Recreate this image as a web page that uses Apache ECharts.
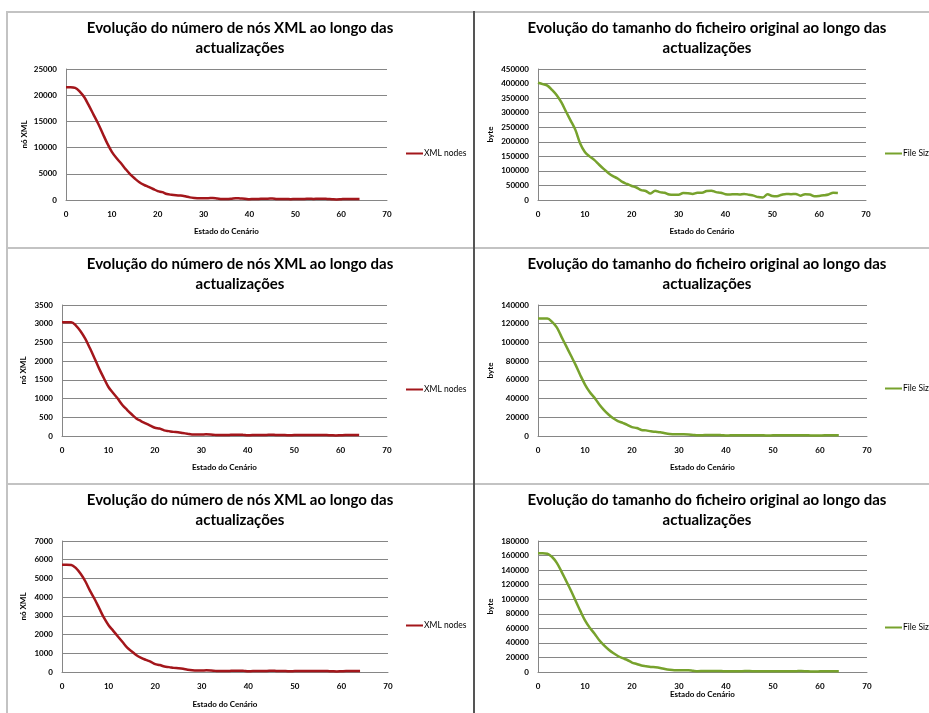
<!DOCTYPE html>
<html><head><meta charset="utf-8">
<script src="https://cdn.jsdelivr.net/npm/echarts@6/dist/echarts.min.js"></script>
<style>html,body{margin:0;padding:0;background:#fff}#c{width:929px;height:713px}</style>
</head><body><div id="c"></div>
<script>
const estados = [0,1,2,3,4,5,6,7,8,9,10,11,12,13,14,15,16,17,18,19,20,21,22,23,24,25,26,27,28,29,30,31,32,33,34,35,36,37,38,39,40,41,42,43,44,45,46,47,48,49,50,51,52,53,54,55,56,57,58,59,60,61,62,63,64];
const xTicks = [0,10,20,30,40,50,60,70];
const xmlNodes1 = [21500,21500,21400,20700,19600,18000,16300,14600,12700,10800,9200,8000,7000,5900,4900,4100,3400,2900,2500,2100,1700,1500,1150,1000,900,850,700,500,400,350,350,350,400,300,200,200,250,350,300,250,150,200,200,250,250,300,200,200,200,150,200,200,200,250,200,250,250,200,150,100,150,200,200,200,200];
const fileSize1 = [403000,398000,393000,378000,360000,335000,303000,272000,240000,194000,165000,150000,138000,122000,107000,93000,82000,74000,62000,55000,48000,43000,34000,31000,22000,32000,27000,25000,19000,18000,18000,24000,23000,21000,25000,25000,31000,32000,27000,25000,20000,19000,20000,19000,21000,18000,15000,10000,9000,20000,14000,13000,18000,21000,20000,21000,15000,20000,19000,13000,14000,16000,19000,25000,24000];
const xmlNodes2 = [3040,3040,3040,2950,2800,2600,2350,2080,1800,1550,1310,1150,1000,830,700,580,470,400,340,280,220,200,150,130,110,100,80,60,40,40,40,45,40,30,25,25,30,35,35,30,20,25,25,30,30,35,30,25,25,20,25,25,25,30,25,30,30,25,20,15,20,25,25,25,25];
const fileSize2 = [125500,125500,125500,122000,116000,106000,96000,86000,76000,65000,55000,47000,41000,34000,28000,23000,19000,16000,14000,12000,9500,8500,6500,6000,5000,4500,4000,3000,2200,1800,1800,1800,1700,1200,800,900,1000,1100,1100,900,600,700,700,800,900,900,800,700,700,600,700,700,700,800,800,900,900,800,600,500,600,700,700,700,700];
const xmlNodes3 = [5730,5730,5720,5550,5250,4850,4350,3900,3400,2900,2500,2200,1900,1600,1300,1100,900,760,650,550,420,370,290,260,220,200,170,120,90,80,80,90,80,60,50,50,60,70,70,60,40,50,50,60,60,70,60,50,50,40,50,50,50,60,50,60,60,50,40,30,40,50,50,50,50];
const fileSize3 = [163000,163000,162500,158000,150000,138000,125000,112000,98000,84000,71000,61000,53000,44000,37000,31000,26000,22000,19000,16500,13000,11000,9000,8000,7000,6500,5500,4000,3000,2500,2500,2500,2400,1700,1200,1300,1400,1500,1500,1300,900,1000,1000,1100,1300,1300,1100,1000,1000,900,1000,1000,1000,1100,1100,1200,1300,1100,800,700,900,1000,1000,1000,1000];
const yMax = [25000,450000,3500,140000,7000,180000];
const yStep = [5000,50000,500,20000,1000,20000];
const titleXml = 'Evolução do número de nós XML ao longo das\nactualizações';
const titleFile = 'Evolução do tamanho do ficheiro original ao longo das\nactualizações';
const xName = 'Estado do Cenário';
const yNameXml = 'nó XML';
const yNameFile = 'byte';
const seriesXml = 'XML nodes';
const seriesFile = 'File Size';

const FONT = 'Lato, "Open Sans", sans-serif';
const RED = '#a3161b';
const GREEN = '#77a22d';
const grids = [
  {left:66, top:69, width:321, height:131},
  {left:538, top:69, width:328, height:131},
  {left:62, top:305, width:325, height:131},
  {left:538, top:305, width:329, height:131},
  {left:62, top:541, width:326, height:131},
  {left:538, top:541, width:329, height:131}
];
const allValues = [xmlNodes1, fileSize1, xmlNodes2, fileSize2, xmlNodes3, fileSize3];
const isXml = [true,false,true,false,true,false];
const xNameGap = [27,27,27,27,28,18];
const yNameGap = [38,44,35,44,35,44];
const titleX = [240,707,240,707,240,707];
const titleTop = [18,18,254,254,490,490];
const legendPos = [[406,149],[885,149],[406,385],[885,384],[406,621],[885,623]];

const chart = echarts.init(document.getElementById('c'), null, {renderer:'canvas'});
const option = {
  backgroundColor:'#ffffff',
  animation:false,
  title: titleX.map((x,i)=>({
    text: isXml[i] ? titleXml : titleFile,
    left: x, top: titleTop[i], textAlign:'center', padding:0,
    textStyle:{fontFamily:FONT, fontWeight:'bold', fontSize:15, lineHeight:20, color:'#000'}
  })),
  grid: grids.map(g=>Object.assign({containLabel:false}, g)),
  xAxis: grids.map((g,i)=>({
    type:'value', gridIndex:i, min:xTicks[0], max:xTicks[xTicks.length-1], interval:xTicks[1]-xTicks[0],
    name:xName, nameLocation:'middle', nameGap:xNameGap[i],
    nameTextStyle:{fontFamily:FONT, fontWeight:'bold', fontSize:8, color:'#000'},
    axisLine:{show:true, lineStyle:{color:'#868686', width:1}},
    axisTick:{show:false},
    axisLabel:{fontFamily:FONT, fontWeight:'bold', fontSize:8, color:'#000', margin:10, formatter:v=>String(v)},
    splitLine:{show:false}
  })),
  yAxis: grids.map((g,i)=>({
    type:'value', gridIndex:i, min:0, max:yMax[i], interval:yStep[i],
    name: isXml[i] ? yNameXml : yNameFile, nameLocation:'middle', nameGap:yNameGap[i], nameRotate:90,
    nameTextStyle:{fontFamily:FONT, fontWeight:'bold', fontSize:8, color:'#000'},
    axisLine:{show:true, lineStyle:{color:'#868686', width:1}},
    axisTick:{show:false},
    axisLabel:{fontFamily:FONT, fontWeight:'bold', fontSize:8, color:'#000', margin:9, formatter:v=>String(v)},
    splitLine:{show:true, lineStyle:{color:'#868686', width:1}}
  })),
  legend: legendPos.map((p,i)=>({
    data:[isXml[i] ? seriesXml : seriesFile],
    left:p[0], top:p[1], padding:0, itemWidth:17, itemHeight:2, itemGap:2,
    icon:'rect', selectedMode:false,
    textStyle:{fontFamily:FONT, fontSize:8.5, color:'#000', padding:[0,0,0,-4]}
  })),
  series: allValues.map((vals,i)=>({
    type:'line', name: isXml[i] ? seriesXml : seriesFile,
    xAxisIndex:i, yAxisIndex:i,
    data: estados.map((x,k)=>[x, vals[k]]),
    smooth:0.35, symbol:'none',
    lineStyle:{color: isXml[i] ? RED : GREEN, width:2.5},
    itemStyle:{color: isXml[i] ? RED : GREEN}
  })),
  graphic: [
    {type:'line', shape:{x1:7, y1:12, x2:929, y2:12}, style:{stroke:'#c3c3c3', lineWidth:2}},
    {type:'line', shape:{x1:7, y1:248, x2:929, y2:248}, style:{stroke:'#c3c3c3', lineWidth:2}},
    {type:'line', shape:{x1:7, y1:484, x2:929, y2:484}, style:{stroke:'#c3c3c3', lineWidth:2}},
    {type:'line', shape:{x1:7, y1:11, x2:7, y2:713}, style:{stroke:'#c3c3c3', lineWidth:2}},
    {type:'line', shape:{x1:474, y1:11, x2:474, y2:713}, style:{stroke:'#555555', lineWidth:2}}
  ]
};
chart.setOption(option);
</script>
</body></html>
